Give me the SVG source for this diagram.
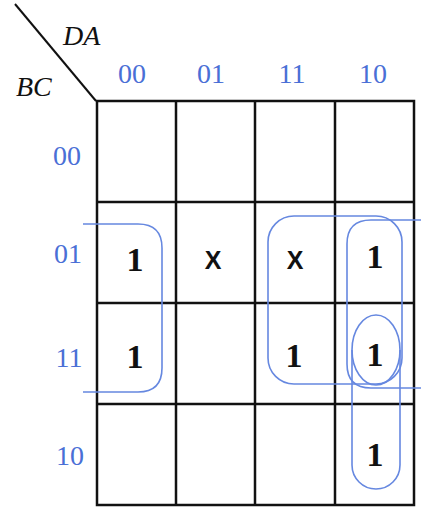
<svg xmlns="http://www.w3.org/2000/svg" width="421" height="511" viewBox="0 0 421 511">
<style>
.grid{stroke:#111;stroke-width:2.5;fill:none}
.lbl{font-family:"Liberation Serif",serif;font-size:28px;fill:#4a6fd6;text-anchor:middle}
.var{font-family:"Liberation Serif",serif;font-size:28px;font-style:italic;fill:#111}
.one{font-family:"Liberation Serif",serif;font-size:34px;font-weight:bold;fill:#111;text-anchor:middle}
.x{font-family:"Liberation Sans",sans-serif;font-size:25px;font-weight:bold;fill:#111;text-anchor:middle}
.loop{stroke:#6688e0;stroke-width:1.6;fill:none}
</style>
<rect width="421" height="511" fill="#fff"/>
<g id="header">
<line x1="15" y1="4" x2="96" y2="101" stroke="#111" stroke-width="2"/>
<text class="var" x="63" y="45">DA</text>
<text class="var" x="16" y="96">BC</text>
<text class="lbl" x="132" y="83">00</text>
<text class="lbl" x="211" y="83">01</text>
<text class="lbl" x="292" y="83">11</text>
<text class="lbl" x="373" y="83">10</text>
<text class="lbl" x="67" y="165">00</text>
<text class="lbl" x="68" y="263">01</text>
<text class="lbl" x="69" y="367">11</text>
<text class="lbl" x="70" y="465">10</text>
</g>
<g id="grid" class="grid">
<rect x="97" y="101" width="317" height="404"/>
<line x1="176" y1="101" x2="176" y2="505"/>
<line x1="255" y1="101" x2="255" y2="505"/>
<line x1="335" y1="101" x2="335" y2="505"/>
<line x1="97" y1="202" x2="414" y2="202"/>
<line x1="97" y1="303" x2="414" y2="303"/>
<line x1="97" y1="404" x2="414" y2="404"/>
</g>
<g id="cells">
<text class="one" x="135" y="271">1</text>
<text class="x" x="213" y="269">X</text>
<text class="x" x="295" y="269">X</text>
<text class="one" x="375" y="268">1</text>
<text class="one" x="135" y="368">1</text>
<text class="one" x="294" y="367">1</text>
<text class="one" x="375" y="366">1</text>
<text class="one" x="375" y="466">1</text>
</g>
<g id="connectors" class="loop">
<path d="M83,224 H138 Q162,224 162,248 V368 Q162,392 138,392 H83"/>
<rect x="268" y="216" width="134" height="168" rx="26"/>
<path d="M421,220 H371 Q347,220 347,244 V364 Q347,388 371,388 H421"/>
<ellipse cx="376" cy="350" rx="24" ry="35"/>
<path d="M352,350 V465 A24,24 0 0 0 400,465 V350"/>
</g>
</svg>
